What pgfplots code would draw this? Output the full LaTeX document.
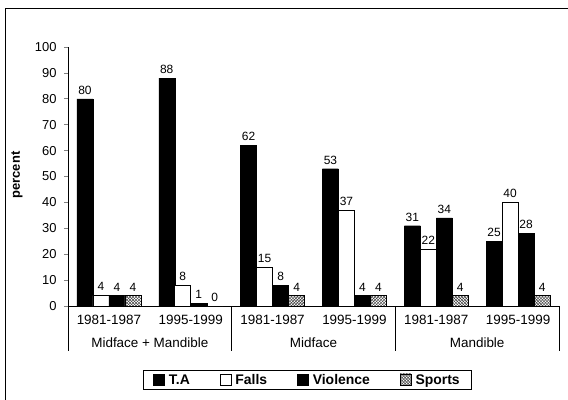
\documentclass[border=0pt]{standalone}
\usepackage{pgfplots}
\pgfplotsset{compat=1.18}
\usepackage{fontspec}
\setmainfont{Liberation Sans}
\usetikzlibrary{patterns}
\begin{document}
\begin{tikzpicture}
\path[use as bounding box] (0bp,0bp) rectangle (568bp,400bp);
\draw[line width=0.9bp] (5bp,0bp) -- (5bp,392bp) -- (568bp,392bp);
\node[rotate=90,font=\bfseries\fontsize{13}{14}\selectfont] at (17bp,225bp) {percent};
\begin{axis}[
  at={(68bp,94bp)}, anchor=south west,
  scale only axis, width=491bp, height=259bp,
  xmin=-0.5, xmax=5.5, ymin=0, ymax=100,
  axis x line*=bottom, axis y line*=left,
  axis line style={line width=0.8bp,-},
  ybar=0pt, bar width=16bp,
  xtick={0,1,2,3,4,5},
  xticklabels={1981-1987,1995-1999,1981-1987,1995-1999,1981-1987,1995-1999},
  xtick style={draw=none},
  xticklabel style={font=\fontsize{13.5}{14}\selectfont, yshift=-2bp},
  ytick={0,10,...,100},
  ytick align=outside, major tick length=4bp,
  ytick style={line width=0.6bp},
  yticklabel style={font=\fontsize{13}{14}\selectfont, xshift=-4bp},
  /pgf/number format/assume math mode=true,
  clip=false,
  nodes near coords,
  nodes near coords style={font=\fontsize{12}{13}\selectfont, yshift=1bp},
  legend columns=4,
  legend style={at={(0.4878,-0.2857)}, anchor=center, draw=black, line width=0.8bp,
    font=\bfseries\fontsize{14}{15}\selectfont, inner xsep=10bp, inner ysep=2bp,
    /tikz/every odd column/.append style={column sep=2bp},
    /tikz/every even column/.append style={column sep=28bp}},
  legend image code/.code={\draw[#1,draw=black,line width=0.6bp] (0bp,-5bp) rectangle (11bp,6bp);},
]
\addplot[fill=black, draw=black] coordinates {(0,80) (1,88) (2,62) (3,53) (4,31) (5,25)};
\addplot[fill=white, draw=black, line width=0.8bp] coordinates {(0,4) (1,8) (2,15) (3,37) (4,22) (5,40)};
\addplot[fill=black, draw=black] coordinates {(0,4) (1,1) (2,8) (3,4) (4,34) (5,28)};
\addplot[fill=white, draw=black, postaction={pattern=crosshatch, pattern color=black!80}] coordinates {(0,4) (1,0) (2,4) (3,4) (4,4) (5,4)};
\legend{T.A,Falls,Violence,Sports}
\draw[line width=0.8bp] (axis cs:-0.5,0) -- ++(0bp,-45bp);
\draw[line width=0.8bp] (axis cs:1.5,0) -- ++(0bp,-45bp);
\draw[line width=0.8bp] (axis cs:3.5,0) -- ++(0bp,-45bp);
\draw[line width=0.8bp] (axis cs:5.5,0) -- ++(0bp,-45bp);
\node[font=\fontsize{13.5}{14}\selectfont] at (axis cs:0.5,0) [yshift=-37bp] {Midface + Mandible};
\node[font=\fontsize{13.5}{14}\selectfont] at (axis cs:2.5,0) [yshift=-37bp] {Midface};
\node[font=\fontsize{13.5}{14}\selectfont] at (axis cs:4.5,0) [yshift=-37bp] {Mandible};
\end{axis}
\end{tikzpicture}
\end{document}
